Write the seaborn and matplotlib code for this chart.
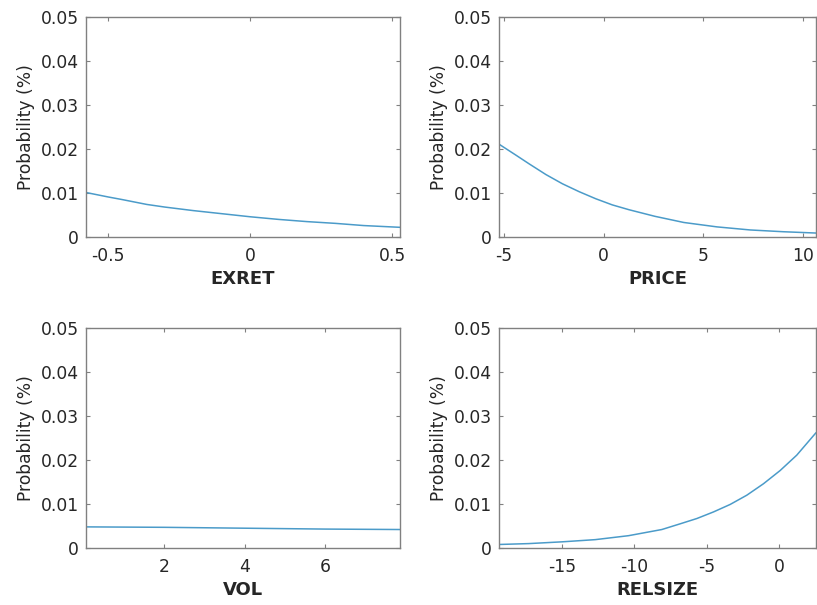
import matplotlib
matplotlib.use("Agg")
import matplotlib.pyplot as plt
import seaborn as sns
import pandas as pd

# ---- data ----
exret_x = [-0.577, -0.5, -0.45, -0.364, -0.3, -0.2, -0.1, 0.0, 0.1, 0.2, 0.3, 0.4, 0.528]
exret_y = [0.0101, 0.0091, 0.0085, 0.0074, 0.0068, 0.0060, 0.0053, 0.0046, 0.0040, 0.0035, 0.0031, 0.0026, 0.0022]

price_x = [-5.25, -4.4, -3.73, -2.9, -2.07, -1.23, -0.4, 0.43, 1.27, 2.57, 4.02, 5.68, 7.35, 9.0, 10.65]
price_y = [0.0211, 0.0186, 0.0166, 0.0142, 0.0121, 0.0103, 0.0087, 0.0073, 0.0062, 0.0047, 0.0033, 0.0023, 0.0016, 0.0012, 0.0009]

vol_x = [0.06, 2.0, 4.0, 6.0, 7.86]
vol_y = [0.0048, 0.0047, 0.0045, 0.0043, 0.0042]

relsize_x = [-19.35, -17.3, -15.0, -12.7, -10.4, -8.1, -6.83, -5.68, -4.53, -3.38, -2.23, -1.08, 0.07, 1.22, 2.55]
relsize_y = [0.0008, 0.0010, 0.0014, 0.0019, 0.0028, 0.0042, 0.0055, 0.0067, 0.0082, 0.0099, 0.0120, 0.0146, 0.0176, 0.0211, 0.0262]

panels = [
    ("EXRET", exret_x, exret_y, (-0.578, 0.528), [-0.5, 0, 0.5], ["-0.5", "0", "0.5"]),
    ("PRICE", price_x, price_y, (-5.25, 10.65), [-5, 0, 5, 10], ["-5", "0", "5", "10"]),
    ("VOL", vol_x, vol_y, (0.06, 7.86), [2, 4, 6], ["2", "4", "6"]),
    ("RELSIZE", relsize_x, relsize_y, (-19.35, 2.55), [-15, -10, -5, 0], ["-15", "-10", "-5", "0"]),
]
y_ticks = [0, 0.01, 0.02, 0.03, 0.04, 0.05]
y_ticklabels = ["0", "0.01", "0.02", "0.03", "0.04", "0.05"]
y_label = "Probability (%)"

sns.set_style("white")
plt.rcParams["font.family"] = ["DejaVu Sans"]

W, H = 817, 605
fig = plt.figure(figsize=(W / 100, H / 100), dpi=100)

boxes = [(86, 400, 17, 237), (499, 816, 17, 237), (86, 400, 328, 548), (499, 816, 328, 548)]
text_col = "#262626"
spine_col = "#808080"
line_col = "#4b9bc9"

for (name, xs, ys, xl, xt, xtl), (l, r, t, b) in zip(panels, boxes):
    ax = fig.add_axes([l / W, 1 - b / H, (r - l) / W, (b - t) / H])
    df = pd.DataFrame({name: xs, "p": ys})
    sns.lineplot(data=df, x=name, y="p", ax=ax, color=line_col, linewidth=1.1)
    ax.set_xlim(*xl)
    ax.set_ylim(0, 0.05)
    ax.set_xticks(xt)
    ax.set_xticklabels(xtl)
    ax.set_yticks(y_ticks)
    ax.set_yticklabels(y_ticklabels)
    ax.tick_params(direction="in", length=3, width=0.8, color=spine_col,
                   labelsize=12.3, labelcolor=text_col, top=True, right=True,
                   bottom=True, left=True, pad=5)
    ax.tick_params(axis="x", pad=7)
    for s in ax.spines.values():
        s.set_color(spine_col)
        s.set_linewidth(1.0)
        s.set_visible(True)
    ax.set_xlabel(name, fontsize=13, fontweight="bold", color=text_col, labelpad=4)
    ax.set_ylabel(y_label, fontsize=12.3, color=text_col, labelpad=4)

fig.savefig("out.png", dpi=100, facecolor="white")
